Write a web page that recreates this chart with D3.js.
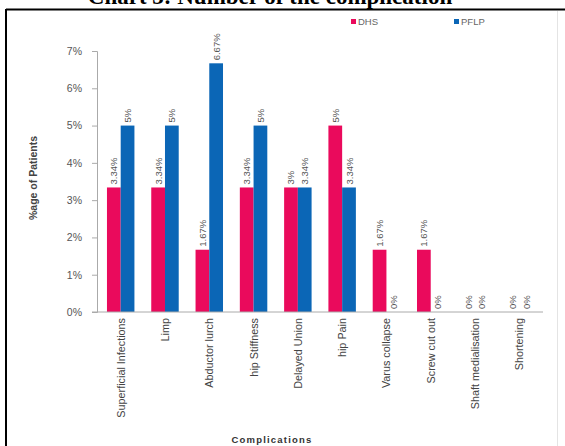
<!DOCTYPE html>
<html><head><meta charset="utf-8">
<script src="https://cdn.jsdelivr.net/npm/d3@7"></script>
<style>body{margin:0;background:#fff}svg{display:block}</style>
</head><body>
<svg id="c" width="565" height="446"></svg>
<script>
const categories = ["Superficial Infections","Limp","Abductor lurch","hip Stiffness","Delayed Union","hip Pain","Varus collapse","Screw cut out","Shaft medialisation","Shortening"];
const seriesNames = ["DHS","PFLP"];
const dhsValues = [3.34,3.34,1.67,3.34,3.34,5,1.67,1.67,0,0];
const pflpValues = [5,5,6.67,5,3.34,3.34,0,0,0,0];
const dhsLabels = ["3.34%","3.34%","1.67%","3.34%","3%","5%","1.67%","1.67%","0%","0%"];
const pflpLabels = ["5%","5%","6.67%","5%","3.34%","3.34%","0%","0%","0%","0%"];
const yTicks = [0,1,2,3,4,5,6,7];
const colors = ["#EA0A5C","#0B66B6"];

const svg = d3.select("#c");
const x0 = 97, x1 = 543, yBase = 312, yTop = 51;
const x = d3.scaleBand().domain(categories).range([x0,x1]).paddingInner(0.38).paddingOuter(0.225);
const xs = d3.scaleBand().domain(seriesNames).range([0,x.bandwidth()]);
const y = d3.scaleLinear().domain([0,7]).range([yBase,yTop]);

// title (cropped at top, as in the reference)
svg.append("text").attr("x",270).attr("y",4).attr("text-anchor","middle")
  .attr("font-family","Liberation Serif, Times New Roman, serif").attr("font-weight","bold").attr("font-size",23)
  .attr("fill","#000").text("Chart 3: Number of the complication");
// frame
svg.append("line").attr("x1",6).attr("x2",565).attr("y1",9.5).attr("y2",9.5).attr("stroke","#000").attr("stroke-width",2);
svg.append("line").attr("x1",6).attr("x2",6).attr("y1",9).attr("y2",446).attr("stroke","#000").attr("stroke-width",2);
svg.append("line").attr("x1",557.5).attr("x2",557.5).attr("y1",11).attr("y2",446).attr("stroke","#e4e4e4").attr("stroke-width",1);

// y axis
const yAxis = svg.append("g").attr("transform",`translate(${x0},0)`)
  .call(d3.axisLeft(y).tickValues(yTicks).tickFormat(d=>d+"%").tickSize(5).tickPadding(10));
yAxis.select(".domain").attr("stroke","#aaa");
yAxis.selectAll(".tick line").attr("stroke","#aaa");
yAxis.selectAll(".tick text").attr("font-family","Liberation Sans, Arial, sans-serif").attr("font-size",10.5).attr("fill","#555");

// bars
const data = [dhsValues,pflpValues];
const labels = [dhsLabels,pflpLabels];
data.forEach((vals,si)=>{
  svg.append("g").selectAll("rect").data(categories).join("rect")
    .attr("x",(c)=>x(c)+xs(seriesNames[si]))
    .attr("width",xs.bandwidth())
    .attr("y",(c,i)=>y(vals[i]))
    .attr("height",(c,i)=>yBase-y(vals[i]))
    .attr("fill",colors[si]);
  svg.append("g").selectAll("text").data(categories).join("text")
    .attr("transform",(c,i)=>`translate(${x(c)+xs(seriesNames[si])+xs.bandwidth()/2+3.5},${y(vals[i])-3}) rotate(-90)`)
    .attr("font-family","Liberation Sans, Arial, sans-serif").attr("font-size",9.5).attr("fill","#555")
    .text((c,i)=>labels[si][i]);
});

// x axis
const xAxis = svg.append("g").attr("transform",`translate(0,${yBase})`)
  .call(d3.axisBottom(x).tickSize(0).tickPadding(0));
xAxis.select(".domain").attr("stroke","#aaa").attr("d",`M${x0-5},0H${x1}`);
xAxis.selectAll(".tick text")
  .attr("transform","translate(4,6) rotate(-90)").attr("text-anchor","end").attr("dy",0).attr("y",0)
  .attr("font-family","Liberation Sans, Arial, sans-serif").attr("font-size",10.8).attr("fill","#444");

// axis titles
svg.append("text").attr("transform","translate(37,178) rotate(-90)").attr("text-anchor","middle")
  .attr("font-family","Liberation Sans, Arial, sans-serif").attr("font-size",10.5).attr("font-weight","bold").attr("fill","#444")
  .text("%age of Patients");
svg.append("text").attr("x",272).attr("y",443).attr("text-anchor","middle")
  .attr("font-family","Liberation Sans, Arial, sans-serif").attr("font-size",9.5).attr("font-weight","bold").attr("letter-spacing",1.2).attr("fill","#333")
  .text("Complications");

// legend
const lg = svg.append("g");
[[357,"DHS"],[460,"PFLP"]].forEach(([lx,name],i)=>{
  lg.append("rect").attr("x",lx-6).attr("y",19).attr("width",5).attr("height",5).attr("fill",colors[i]);
  lg.append("text").attr("x",lx+1).attr("y",24.5).attr("font-family","Liberation Sans, Arial, sans-serif").attr("font-size",9.5).attr("fill","#666").text(name);
});
</script>
</body></html>
